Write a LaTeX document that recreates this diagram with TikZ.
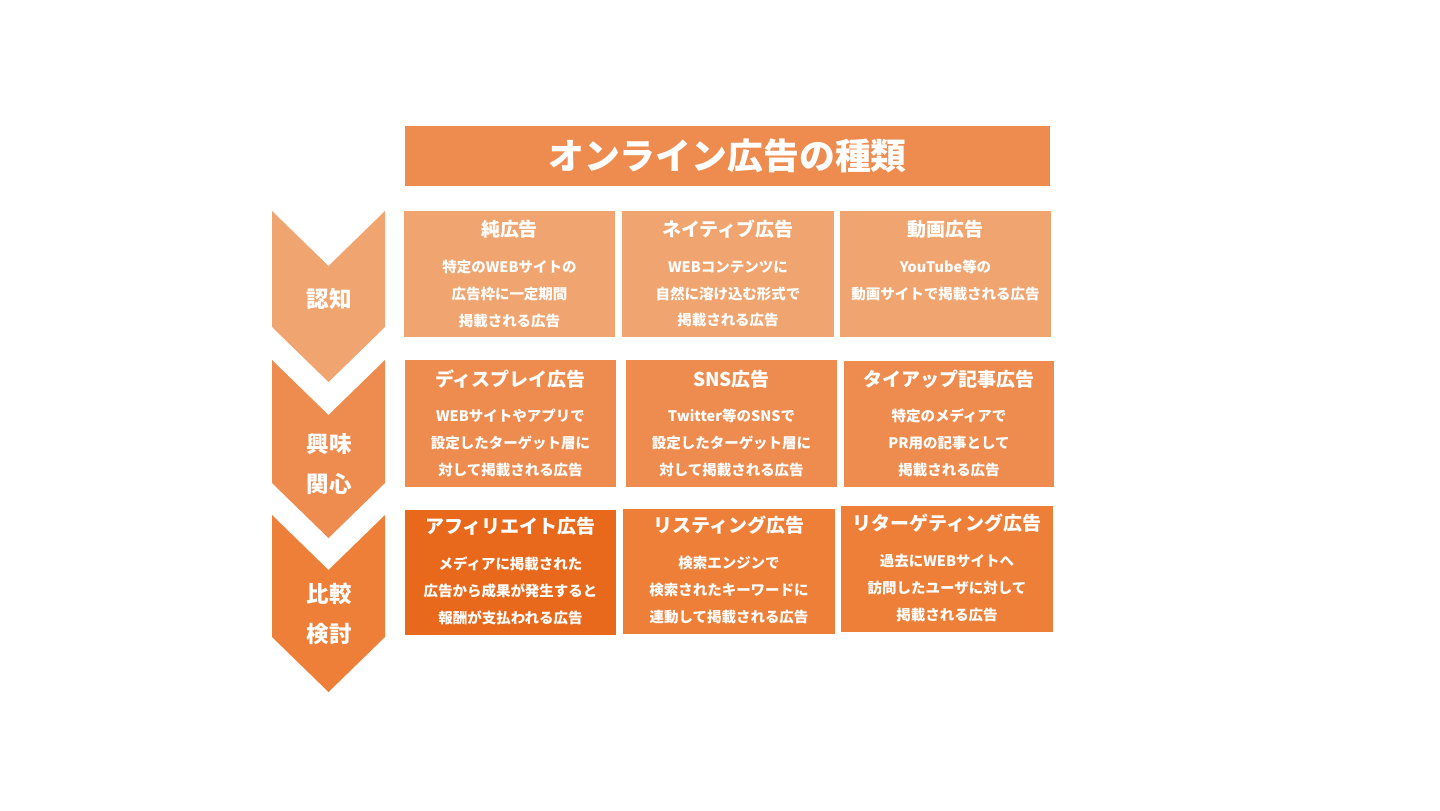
\documentclass[tikz,border=0pt]{standalone}
\usepackage{fontspec}
\setmainfont{Noto Sans CJK JP}
\definecolor{headorange}{HTML}{EE8B4F}
\definecolor{awareorange}{HTML}{F0A46F}
\definecolor{interestorange}{HTML}{EE8C50}
\definecolor{compareorange}{HTML}{EE7F39}
\definecolor{affilorange}{HTML}{E8681C}
\begin{document}
\begin{tikzpicture}[x=0.025cm,y=-0.025cm,align=center,text=white,
  head/.style={fill=headorange,inner sep=0,minimum width=645*0.025cm,minimum height=60*0.025cm,font=\bfseries\fontsize{25.5}{30}\selectfont},
  card/.style={inner sep=0,minimum width=211*0.025cm,minimum height=126*0.025cm},
  ttl/.style={font=\bfseries\fontsize{13.5}{16}\selectfont,inner sep=0},
  txt/.style={font=\bfseries\fontsize{10.3}{19.1}\selectfont,inner sep=0},
  stage/.style={font=\bfseries\fontsize{16}{28.3}\selectfont,inner sep=0}]
  \useasboundingbox[fill=white] (0,0) rectangle (1440,810);
  \node[head] (head) at (727.5,156){オンライン広告の種類};
  \fill[awareorange] (272,211)--(328.5,266)--(385,211)--(385,327)--(328.5,382)--(272,327)--cycle;
  \fill[interestorange] (272,360)--(328.5,415)--(385,360)--(385,483)--(328.5,538)--(272,483)--cycle;
  \fill[compareorange] (272,515)--(328.5,570)--(385,515)--(385,637)--(328.5,692)--(272,637)--cycle;
  \node[stage] (aware) at (329,299){認知};
  \node[stage] (interest) at (329,464){興味\\関心};
  \node[stage] (compare) at (329,614){比較\\検討};
  \node[card,fill=awareorange] (pure) at (509.5,274){};
  \node[card,fill=awareorange,minimum width=212*0.025cm] (native) at (728,274){};
  \node[card,fill=awareorange] (video) at (945.5,274){};
  \node[ttl] at (509.5,229){純広告};
  \node[ttl] at (728,229){ネイティブ広告};
  \node[ttl] at (945.5,229){動画広告};
  \node[txt] at (509.5,294){特定のWEBサイトの\\広告枠に一定期間\\掲載される広告};
  \node[txt] at (728,294){WEBコンテンツに\\自然に溶け込む形式で\\掲載される広告};
  \node[txt] at (945.5,280.5){YouTube等の\\動画サイトで掲載される広告};
  \node[card,fill=interestorange,minimum height=127*0.025cm] (display) at (510.5,423.5){};
  \node[card,fill=interestorange,minimum height=127*0.025cm] (sns) at (731.5,423.5){};
  \node[card,fill=interestorange,minimum height=126*0.025cm,minimum width=210*0.025cm] (tieup) at (949,424){};
  \node[ttl] at (510.5,379){ディスプレイ広告};
  \node[ttl] at (731.5,379){SNS広告};
  \node[ttl] at (949,379){タイアップ記事広告};
  \node[txt] at (510.5,443){WEBサイトやアプリで\\設定したターゲット層に\\対して掲載される広告};
  \node[txt] at (731.5,443){Twitter等のSNSで\\設定したターゲット層に\\対して掲載される広告};
  \node[txt] at (949,443){特定のメディアで\\PR用の記事として\\掲載される広告};
  \node[card,fill=affilorange,minimum height=125*0.025cm] (affiliate) at (510.5,572.5){};
  \node[card,fill=compareorange,minimum height=125*0.025cm,minimum width=212*0.025cm] (listing) at (729,571.5){};
  \node[card,fill=compareorange,minimum height=126*0.025cm,minimum width=212*0.025cm] (retarget) at (947,569){};
  \node[ttl] at (510.5,526){アフィリエイト広告};
  \node[ttl] at (729,525){リスティング広告};
  \node[ttl] at (947,523){リターゲティング広告};
  \node[txt] at (510.5,591){メディアに掲載された\\広告から成果が発生すると\\報酬が支払われる広告};
  \node[txt] at (729,590){検索エンジンで\\検索されたキーワードに\\連動して掲載される広告};
  \node[txt] at (947,588){過去にWEBサイトへ\\訪問したユーザに対して\\掲載される広告};
\end{tikzpicture}
\end{document}
